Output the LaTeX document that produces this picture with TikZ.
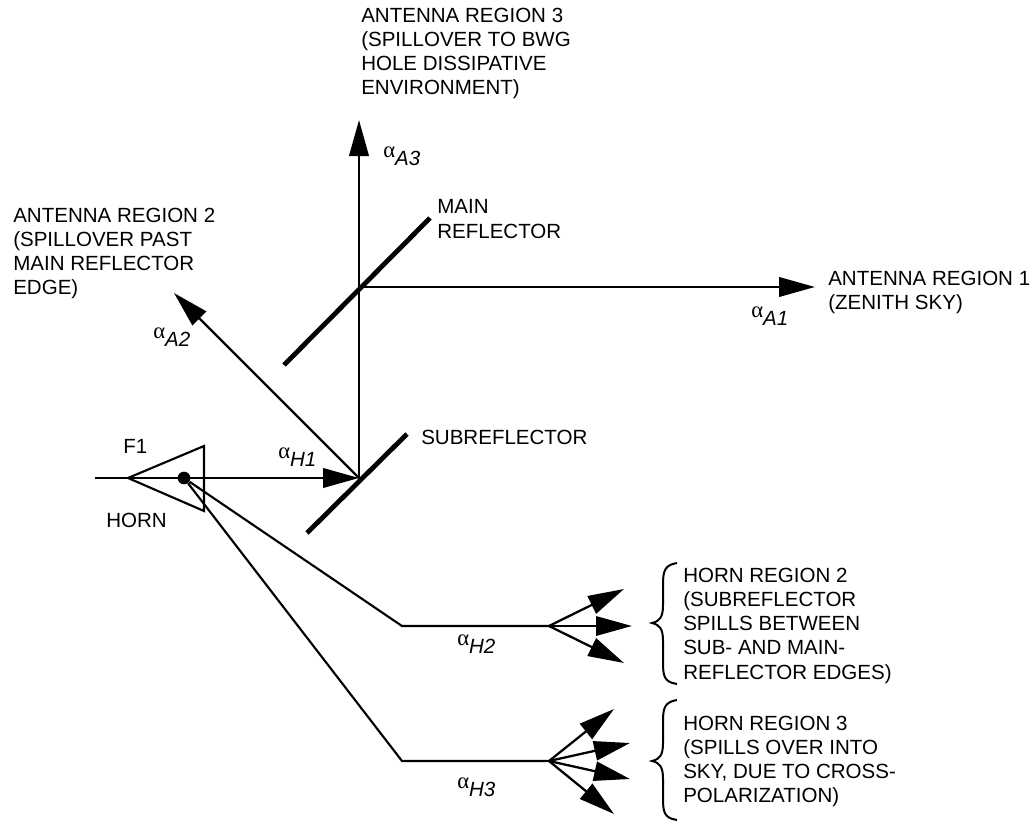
\documentclass[tikz,border=0pt]{standalone}
\usepackage{fontspec}
\setmainfont{Liberation Sans}
\newfontfamily\alphafont{Liberation Serif}
\usetikzlibrary{arrows.meta,positioning}

\newcommand{\lossterm}[2]{{\alphafont\fontsize{17}{17}\selectfont α}\raisebox{-6pt}{\textit{#1#2}}}

\begin{document}
\begin{tikzpicture}[x=0.75pt, y=-0.75pt,
                    ray/.style={line width=2.1pt, -{Triangle[length=27pt,width=14.5pt]}},
                    raythin/.style={line width=1.7pt, -{Triangle[length=27pt,width=14.5pt]}},
                    plain/.style={line width=1.6pt},
                    mirror/.style={line width=3.6pt},
                    brace/.style={line width=1.5pt},
                    every node/.style={font=\fontsize{15.4}{18.15}\selectfont, inner sep=0pt, align=left}]
    \useasboundingbox (0,0) rectangle (1036,821);

   % ray junctions
   \coordinate (feed_in)  at (95,478);
   \coordinate (horn_tip) at (128,478);
   \coordinate (horn_up)  at (204,446);
   \coordinate (horn_low) at (204,511);
   \coordinate (sub_hit)  at (359,478);
   \coordinate (main_hit) at (359,287);
   \coordinate (a1_tip)   at (815,287);
   \coordinate (a2_tip)   at (174,293);
   \coordinate (a3_tip)   at (359,120);
   \coordinate (h2_knee)  at (402,626);
   \coordinate (h2_fan)   at (549,626);
   \coordinate (h3_knee)  at (402,761);
   \coordinate (h3_fan)   at (549,761);
   \coordinate (main_low) at (284,365);
   \coordinate (main_up)  at (430,218);
   \coordinate (sub_low)  at (307,533);
   \coordinate (sub_up)   at (407,434);

   \node[circle, fill=black, minimum size=9.5pt] (phase_pt) at (184,478) {};

   % labels
   \node[anchor=north west] (region_a3) at (361,7.6)   {ANTENNA REGION 3\\(SPILLOVER TO BWG\\HOLE DISSIPATIVE\\ENVIRONMENT)};
   \node[anchor=north west] (region_a2) at (13,207.6)  {ANTENNA REGION 2\\(SPILLOVER PAST\\MAIN REFLECTOR\\EDGE)};
   \node[anchor=north west] (region_a1) at (828,270.6) {ANTENNA REGION 1\\(ZENITH SKY)};
   \node[anchor=north west] (main_lab)  at (437,199.6) {MAIN\\REFLECTOR};
   \node[anchor=north west] (sub_lab)   at (421,429.6) {SUBREFLECTOR};
   \node[anchor=north west] (f1_lab)    at (123,439.6) {F1};
   \node[anchor=north west] (horn_lab)  at (106,512.6) {HORN};
   \node[anchor=north west] (region_h2) at (683,567.6) {HORN REGION 2\\(SUBREFLECTOR\\SPILLS BETWEEN\\SUB- AND MAIN-\\REFLECTOR EDGES)};
   \node[anchor=north west] (region_h3) at (683,715.6) {HORN REGION 3\\(SPILLS OVER INTO\\SKY, DUE TO CROSS-\\POLARIZATION)};

   \node[anchor=base west] (alpha_a3) at (383,157) {\lossterm{A}{3}};
   \node[anchor=base west] (alpha_a2) at (153,338) {\lossterm{A}{2}};
   \node[anchor=base west] (alpha_a1) at (751,317) {\lossterm{A}{1}};
   \node[anchor=base west] (alpha_h1) at (278,458) {\lossterm{H}{1}};
   \node[anchor=base west] (alpha_h2) at (457,645) {\lossterm{H}{2}};
   \node[anchor=base west] (alpha_h3) at (457,788) {\lossterm{H}{3}};

   % horn and reflectors
   \draw[plain] (horn_tip) -- (horn_up) -- (horn_low) -- cycle;
   \draw[mirror] (main_low) -- (main_up);
   \draw[mirror] (sub_low) -- (sub_up);

   % main rays
   \draw[ray] (feed_in) -- (sub_hit);
   \draw[ray] (sub_hit) -- (a3_tip);
   \draw[ray] (main_hit) -- (a1_tip);
   \draw[raythin] (sub_hit) -- (a2_tip);

   % horn spill rays
   \draw[plain] (phase_pt) -- (h2_knee) -- (h2_fan);
   \draw[plain] (phase_pt) -- (h3_knee) -- (h3_fan);
   \foreach \tipx/\tipy in {624/589, 632/626, 624/663}
      \draw[raythin] (h2_fan) -- (\tipx,\tipy);
   \foreach \tipx/\tipy in {614/709, 630/743, 630/779, 614/814}
      \draw[raythin] (h3_fan) -- (\tipx,\tipy);

   % braces
   \draw[brace] (677,563) .. controls (664,565) and (663,572) .. (663,585)
                -- (663,605) .. controls (663,617) and (660,621) .. (652,623)
                .. controls (660,625) and (663,629) .. (663,641)
                -- (663,662) .. controls (663,676) and (664,682) .. (677,684);
   \draw[brace] (677,700) .. controls (664,702) and (663,709) .. (663,722)
                -- (663,743) .. controls (663,755) and (660,759) .. (652,761)
                .. controls (660,763) and (663,767) .. (663,779)
                -- (663,798) .. controls (663,812) and (664,818) .. (677,820);
\end{tikzpicture}
\end{document}
